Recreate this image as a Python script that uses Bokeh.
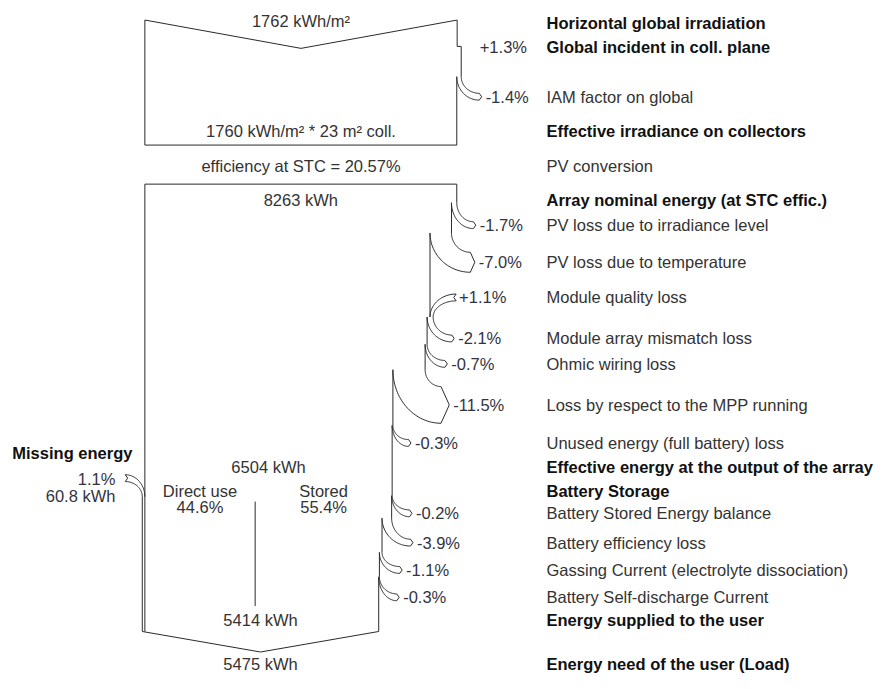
import numpy as np
from bokeh.plotting import figure
from bokeh.models import Range1d, ColumnDataSource
from bokeh.core.properties import value
from bokeh.embed import file_html
from bokeh.resources import INLINE

# ---------------- data ----------------
row_labels = [
    "Horizontal global irradiation", "Global incident in coll. plane", "IAM factor on global",
    "Effective irradiance on collectors", "PV conversion", "Array nominal energy (at STC effic.)",
    "PV loss due to irradiance level", "PV loss due to temperature", "Module quality loss",
    "Module array mismatch loss", "Ohmic wiring loss", "Loss by respect to the MPP running",
    "Unused energy (full battery) loss", "Effective energy at the output of the array",
    "Battery Storage", "Battery Stored Energy balance", "Battery efficiency loss",
    "Gassing Current (electrolyte dissociation)", "Battery Self-discharge Current",
    "Energy supplied to the user", "Energy need of the user (Load)",
]
row_bold = [1, 1, 0, 1, 0, 1, 0, 0, 0, 0, 0, 0, 0, 1, 1, 0, 0, 0, 0, 1, 1]

irr_changes = [1.3, -1.4]                                   # %
array_changes = [-1.7, -7.0, 1.1, -2.1, -0.7, -11.5, -0.3]   # %
battery_changes = [-0.2, -3.9, -1.1, -0.3]                  # %
horizontal_irr = 1762      # kWh/m2
effective_irr = 1760       # kWh/m2
coll_area = 23             # m2
stc_eff = 20.57            # %
nominal_energy = 8263      # kWh
array_output = 6504        # kWh
supplied = 5414            # kWh
load_need = 5475           # kWh
direct_use_pct = 44.6
stored_pct = 55.4
missing_pct = 1.1
missing_kwh = 60.8

# ---------------- layout (pixels of the 891x689 reference) ----------------
row_y = [23.3, 47.5, 98.5, 134, 169, 204, 230, 268, 304, 346, 372, 414, 453,
         478, 502, 525, 555, 583, 611, 634, 679]
irr_rows, arr_rows, bat_rows = [1, 2], [6, 7, 8, 9, 10, 11, 12], [15, 16, 17, 18]
irr_label_x = [488, 494]
irr_ys = [47, 78]
arr_label_x = [488, 487, 467, 466, 459, 461, 422]
arr_ys = [207, 238, 324, 324, 352, 378, 435]
bat_label_x = [423, 424, 413, 410]
bat_ys = [507, 530, 565, 590]
LABEL_X = 556
X_LEFT = 147
FULL_W = 318
TOP1, VDEPTH1, BOT1 = 20, 29, 148
TOP2 = 188
BOTTOM, VDEPTH2 = 646, 21
MISS_TIP, MISS_Y, MISS_YS = 127, 489, 508
DIV_Y0, DIV_Y1 = 513, 620
LINE = "#2a2a2a"
FONT = value("Liberation Sans")
FS = value("16.5px")

segs = []


def seg(xs, ys):
    segs.append((list(xs), list(ys)))


def quarter(x0, y0, x1, y1, n=40):
    t = np.linspace(0, np.pi / 2, n)
    return x1 - (x1 - x0) * np.cos(t), y0 + (y1 - y0) * np.sin(t)


def head(w):
    a = max(3.5, w ** 1.5 / 10)
    return a, max(2.5, 0.45 * a)


def loss_band(R, w, ys, yl, tip):
    a, dx = head(w)
    ex = tip - dx
    seg(*quarter(R, ys, ex, yl - a))
    seg(*quarter(R - w, ys, ex, yl + a))
    seg([ex, tip, ex], [yl - a, yl, yl + a])


def gain_band(x_outer, x_inner, yj, yl, tip, w, direction):
    a, dx = head(w)
    seg(*quarter(x_outer, yj, tip, yl - a))
    seg(*quarter(x_inner, yj, tip, yl + a))
    seg([tip, tip + direction * dx, tip], [yl - a, yl, yl + a])


pct_x, pct_y, pct_t = [], [], []

# ---- irradiation block ----
R = X_LEFT + FULL_W
mid1 = X_LEFT + FULL_W / 2
seg([X_LEFT, mid1, R], [TOP1, TOP1 + VDEPTH1, TOP1])
seg([X_LEFT, X_LEFT], [TOP1, BOT1])
y_prev = TOP1
for i, c in enumerate(irr_changes):
    width = R - X_LEFT
    w = abs(c) / 100 * width
    ys = irr_ys[i]
    seg([R, R], [y_prev, ys])
    if c > 0:
        seg([R, R + w], [ys, ys])          # small gain drawn as a step
        R = R + w
    else:
        loss_band(R, w, ys, row_y[irr_rows[i]], irr_label_x[i] - 4)
        R = R - w
    y_prev = ys
    pct_x.append(irr_label_x[i]); pct_y.append(row_y[irr_rows[i]]); pct_t.append(f"{c:+.1f}%")
seg([R, R], [y_prev, BOT1])
seg([X_LEFT, R], [BOT1, BOT1])
R_eff = R

# ---- array block ----
seg([X_LEFT, R], [TOP2, TOP2])
y_prev = TOP2
for i, c in enumerate(array_changes):
    width = R - X_LEFT
    w = abs(c) / 100 * width
    ys = arr_ys[i]
    yl = row_y[arr_rows[i]]
    seg([R, R], [y_prev, ys])
    if c > 0:
        gain_band(R, R + w, ys, yl, arr_label_x[i] - 3, w, -1)
        R = R + w
    else:
        loss_band(R, w, ys, yl, arr_label_x[i] - 4)
        R = R - w
    y_prev = ys
    pct_x.append(arr_label_x[i]); pct_y.append(yl); pct_t.append(f"{c:+.1f}%")
R_out = R
width_out = R_out - X_LEFT
for i, c in enumerate(battery_changes):
    w = abs(c) / 100 * (R - X_LEFT)
    ys = bat_ys[i]
    yl = row_y[bat_rows[i]]
    seg([R, R], [y_prev, ys])
    loss_band(R, w, ys, yl, bat_label_x[i] - 4)
    R = R - w
    y_prev = ys
    pct_x.append(bat_label_x[i]); pct_y.append(yl); pct_t.append(f"{c:+.1f}%")
seg([R, R], [y_prev, BOTTOM])
R_end = R

# missing energy entering on the left
wm = missing_pct / 100 * (R_end - X_LEFT)
seg([X_LEFT, X_LEFT], [TOP2, BOTTOM])
seg([X_LEFT - wm, X_LEFT - wm], [MISS_YS, BOTTOM])
gain_band(X_LEFT, X_LEFT - wm, MISS_YS, MISS_Y, MISS_TIP, wm, 1)

# bottom V
xl = X_LEFT - wm
midb = (xl + R_end) / 2
seg([xl, midb, R_end], [BOTTOM, BOTTOM + VDEPTH2, BOTTOM])

# direct-use / stored divider
x_div = X_LEFT + direct_use_pct / 100 * width_out
seg([x_div, x_div], [DIV_Y0, DIV_Y1])

# ---------------- figure ----------------
p = figure(width=875, height=673, x_range=Range1d(0, 891), y_range=Range1d(689, 0),
           output_backend="svg", toolbar_location=None, min_border=0,
           x_axis_location=None, y_axis_location=None)
p.grid.visible = False
p.outline_line_color = None
p.background_fill_color = "white"
p.border_fill_color = "white"

p.multi_line([s[0] for s in segs], [s[1] for s in segs], line_color=LINE, line_width=1)

# right-column labels
lab = ColumnDataSource(dict(
    x=[LABEL_X] * len(row_labels), y=row_y, text=row_labels,
    style=["bold" if b else "normal" for b in row_bold],
    color=["#111111" if b else "#333333" for b in row_bold]))
p.text(x="x", y="y", text="text", source=lab, text_font=FONT, text_font_size=FS,
       text_font_style="style", text_color="color", text_baseline="middle", text_align="left")

# percentage labels
p.text(x=pct_x, y=pct_y, text=pct_t, text_font=FONT, text_font_size=FS,
       text_color="#33333f", text_baseline="middle", text_align="left")

# values inside the diagram
mid2 = (X_LEFT + R_eff) / 2
mid_out = (X_LEFT + R_out) / 2
cx = [mid1, mid1, mid1, mid2, mid_out,
      (X_LEFT + x_div) / 2, (X_LEFT + x_div) / 2, (x_div + R_out) / 2, (x_div + R_out) / 2,
      (xl + R_end) / 2, midb]
cy = [21, row_y[3], row_y[4], row_y[5], row_y[13], 502, 519, 502, 519, row_y[19], row_y[20]]
ct = [f"{horizontal_irr} kWh/m²", f"{effective_irr} kWh/m² * {coll_area} m² coll.",
      f"efficiency at STC = {stc_eff:.2f}%", f"{nominal_energy} kWh", f"{array_output} kWh",
      "Direct use", f"{direct_use_pct:.1f}%", "Stored", f"{stored_pct:.1f}%",
      f"{supplied} kWh", f"{load_need} kWh"]
p.text(x=cx, y=cy, text=ct, text_font=FONT, text_font_size=FS, text_color="#333333",
       text_baseline="middle", text_align="center")

# missing energy
p.text(x=[12], y=[463], text=["Missing energy"], text_font=FONT, text_font_size=FS,
       text_font_style="bold", text_color="#111111", text_baseline="middle", text_align="left")
p.text(x=[117, 117], y=[490, 507], text=[f"{missing_pct:.1f}%", f"{missing_kwh:.1f} kWh"],
       text_font=FONT, text_font_size=FS, text_color="#33333f",
       text_baseline="middle", text_align="right")

open("out.html", "w").write(file_html(p, INLINE))
